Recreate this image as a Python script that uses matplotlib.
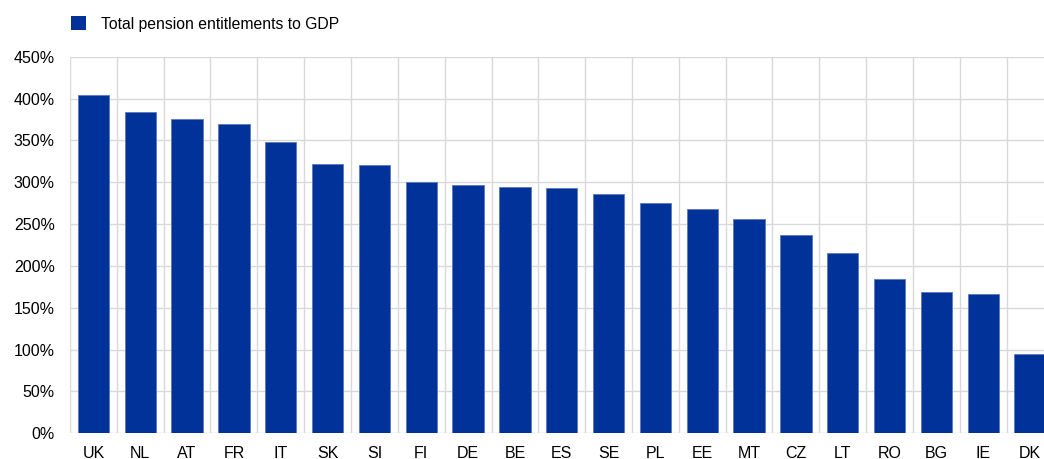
import matplotlib
matplotlib.use("Agg")
import matplotlib.pyplot as plt
from matplotlib.ticker import FuncFormatter, MultipleLocator
from matplotlib.patches import Patch

countries = ["UK", "NL", "AT", "FR", "IT", "SK", "SI", "FI", "DE", "BE", "ES",
             "SE", "PL", "EE", "MT", "CZ", "LT", "RO", "BG", "IE", "DK"]
values = [403.9, 383.6, 375.6, 369.2, 347.7, 322.2, 321.0, 300.6, 296.7, 294.3, 292.7,
          285.6, 275.6, 267.6, 256.4, 237.0, 215.3, 184.4, 168.5, 166.4, 95.1]
series_name = "Total pension entitlements to GDP"

plt.rcParams['font.family'] = ['Liberation Sans', 'DejaVu Sans']
W, H = 1044, 459
fig = plt.figure(figsize=(W / 100, H / 100), dpi=100)
left, right, top, bottom = 70, 1053.5, 56.7, 433.3
ax = fig.add_axes([left / W, 1 - bottom / H, (right - left) / W, (bottom - top) / H])

color = "#003299"
x = range(len(countries))
ax.bar(x, values, width=0.67, color=color, edgecolor="#5a78c0", linewidth=0.6, zorder=3)
ax.set_xlim(-0.5, len(countries) - 0.5)
ax.set_ylim(0, 450)
ax.yaxis.set_major_locator(MultipleLocator(50))
ax.yaxis.set_major_formatter(FuncFormatter(lambda v, p: f"{v:.0f}%"))
ax.set_xticks(list(x))
ax.set_xticklabels(countries)
ax.set_xticks([i + 0.5 for i in range(-1, len(countries))], minor=True)

ax.grid(axis="y", which="major", color="#d9d9d9", linewidth=1, zorder=0)
ax.grid(axis="x", which="minor", color="#d9d9d9", linewidth=1, zorder=0)
ax.grid(axis="x", which="major", visible=False)
for s in ax.spines.values():
    s.set_visible(False)
ax.tick_params(axis="both", which="both", length=0, labelsize=11.5, colors="#000000")
ax.tick_params(axis="x", pad=9)
ax.tick_params(axis="y", pad=11)

handles = [Patch(facecolor=color, edgecolor="none")]
fig.legend(handles, [series_name], loc="upper left", bbox_to_anchor=(64.5 / W, 1 - 10 / H),
           frameon=False, fontsize=11.3, handlelength=1.0, handleheight=1.0,
           handletextpad=0.9, borderaxespad=0)

fig.savefig("out.png", dpi=100)
